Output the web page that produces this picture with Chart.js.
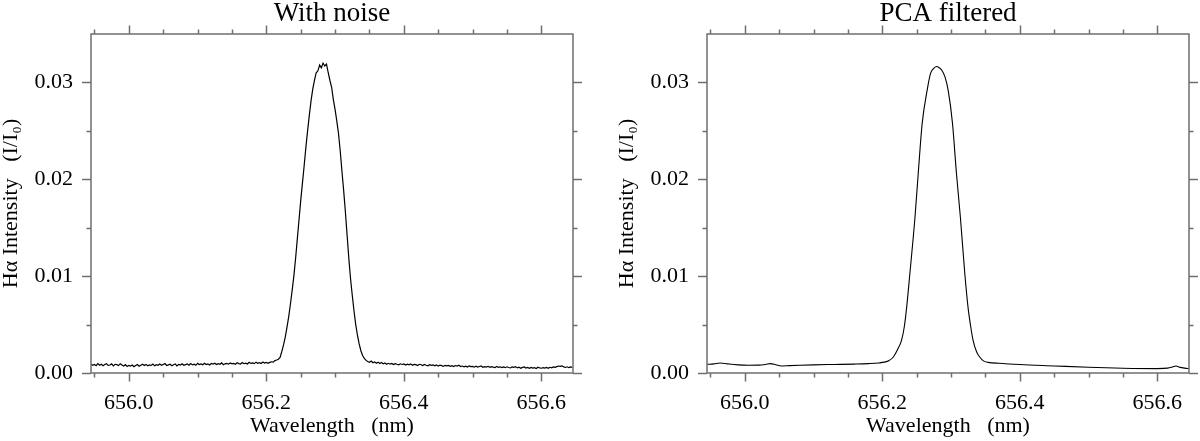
<!DOCTYPE html>
<html><head><meta charset="utf-8">
<script src="https://cdn.jsdelivr.net/npm/chart.js@4.4.1/dist/chart.umd.min.js"></script>
<style>
html,body{margin:0;padding:0;background:#fff;width:1200px;height:441px;overflow:hidden;}
#c1{position:absolute;left:0;top:0;}
#c2{position:absolute;left:616px;top:0;}
</style></head><body>
<canvas id="c1" width="584" height="441"></canvas>
<canvas id="c2" width="584" height="441"></canvas>
<script>
// ---------- data ----------
const noisyWavelength = [
655.9450,655.9475,655.9500,655.9525,655.9550,655.9575,655.9600,655.9625,
655.9650,655.9675,655.9700,655.9725,655.9750,655.9775,655.9800,655.9825,
655.9850,655.9875,655.9900,655.9925,655.9950,655.9975,656.0000,656.0025,
656.0050,656.0075,656.0100,656.0125,656.0150,656.0175,656.0200,656.0225,
656.0250,656.0275,656.0300,656.0325,656.0350,656.0375,656.0400,656.0425,
656.0450,656.0475,656.0500,656.0525,656.0550,656.0575,656.0600,656.0625,
656.0650,656.0675,656.0700,656.0725,656.0750,656.0775,656.0800,656.0825,
656.0850,656.0875,656.0900,656.0925,656.0950,656.0975,656.1000,656.1025,
656.1050,656.1075,656.1100,656.1125,656.1150,656.1175,656.1200,656.1225,
656.1250,656.1275,656.1300,656.1325,656.1350,656.1375,656.1400,656.1425,
656.1450,656.1475,656.1500,656.1525,656.1550,656.1575,656.1600,656.1625,
656.1650,656.1675,656.1700,656.1725,656.1750,656.1775,656.1800,656.1825,
656.1850,656.1875,656.1900,656.1925,656.1950,656.1975,656.2000,656.2025,
656.2050,656.2075,656.2100,656.2125,656.2150,656.2175,656.2200,656.2225,
656.2250,656.2275,656.2300,656.2325,656.2350,656.2375,656.2400,656.2425,
656.2450,656.2475,656.2500,656.2525,656.2550,656.2575,656.2600,656.2625,
656.2650,656.2675,656.2700,656.2725,656.2750,656.2775,656.2800,656.2825,
656.2850,656.2875,656.2900,656.2925,656.2950,656.2975,656.3000,656.3025,
656.3050,656.3075,656.3100,656.3125,656.3150,656.3175,656.3200,656.3225,
656.3250,656.3275,656.3300,656.3325,656.3350,656.3375,656.3400,656.3425,
656.3450,656.3475,656.3500,656.3525,656.3550,656.3575,656.3600,656.3625,
656.3650,656.3675,656.3700,656.3725,656.3750,656.3775,656.3800,656.3825,
656.3850,656.3875,656.3900,656.3925,656.3950,656.3975,656.4000,656.4025,
656.4050,656.4075,656.4100,656.4125,656.4150,656.4175,656.4200,656.4225,
656.4250,656.4275,656.4300,656.4325,656.4350,656.4375,656.4400,656.4425,
656.4450,656.4475,656.4500,656.4525,656.4550,656.4575,656.4600,656.4625,
656.4650,656.4675,656.4700,656.4725,656.4750,656.4775,656.4800,656.4825,
656.4850,656.4875,656.4900,656.4925,656.4950,656.4975,656.5000,656.5025,
656.5050,656.5075,656.5100,656.5125,656.5150,656.5175,656.5200,656.5225,
656.5250,656.5275,656.5300,656.5325,656.5350,656.5375,656.5400,656.5425,
656.5450,656.5475,656.5500,656.5525,656.5550,656.5575,656.5600,656.5625,
656.5650,656.5675,656.5700,656.5725,656.5750,656.5775,656.5800,656.5825,
656.5850,656.5875,656.5900,656.5925,656.5950,656.5975,656.6000,656.6025,
656.6050,656.6075,656.6100,656.6125,656.6150,656.6175,656.6200,656.6225,
656.6250,656.6275,656.6300,656.6325,656.6350,656.6375,656.6400,656.6425,
656.6450
];
const noisyIntensity = [
0.00093,0.00079,0.00088,0.00075,0.00097,0.00081,0.00091,0.00076,
0.00087,0.00095,0.00078,0.00083,0.00094,0.00073,0.00090,0.00086,
0.00077,0.00096,0.00082,0.00071,0.00086,0.00068,0.00079,0.00072,
0.00083,0.00066,0.00078,0.00088,0.00070,0.00081,0.00091,0.00077,
0.00089,0.00075,0.00084,0.00078,0.00093,0.00074,0.00086,0.00080,
0.00092,0.00079,0.00088,0.00097,0.00078,0.00084,0.00091,0.00075,
0.00086,0.00094,0.00073,0.00089,0.00082,0.00096,0.00080,0.00087,
0.00093,0.00081,0.00097,0.00084,0.00090,0.00079,0.00099,0.00087,
0.00094,0.00085,0.00101,0.00088,0.00093,0.00083,0.00098,0.00092,
0.00101,0.00087,0.00096,0.00090,0.00104,0.00086,0.00095,0.00099,
0.00091,0.00103,0.00094,0.00099,0.00089,0.00106,0.00097,0.00093,
0.00108,0.00096,0.00102,0.00093,0.00110,0.00099,0.00105,0.00097,
0.00112,0.00100,0.00106,0.00098,0.00114,0.00103,0.00109,0.00101,
0.00110,0.00116,0.00112,0.00128,0.00134,0.00142,0.00160,0.00222,
0.00290,0.00370,0.00470,0.00580,0.00710,0.00850,0.01000,0.01180,
0.01380,0.01580,0.01780,0.01960,0.02140,0.02330,0.02500,0.02660,
0.02810,0.02930,0.03020,0.03100,0.03120,0.03180,0.03150,0.03200,
0.03170,0.03190,0.03100,0.03020,0.02950,0.02820,0.02720,0.02600,
0.02470,0.02290,0.02080,0.01880,0.01660,0.01420,0.01180,0.00970,
0.00800,0.00640,0.00500,0.00390,0.00300,0.00230,0.00180,0.00150,
0.00130,0.00118,0.00110,0.00124,0.00106,0.00115,0.00101,0.00112,
0.00098,0.00108,0.00094,0.00103,0.00091,0.00100,0.00093,0.00099,
0.00087,0.00097,0.00090,0.00084,0.00095,0.00088,0.00093,0.00082,
0.00091,0.00084,0.00094,0.00080,0.00089,0.00086,0.00078,0.00090,
0.00085,0.00077,0.00088,0.00080,0.00074,0.00086,0.00079,0.00083,
0.00075,0.00083,0.00071,0.00080,0.00076,0.00068,0.00079,0.00073,
0.00078,0.00069,0.00075,0.00066,0.00077,0.00071,0.00080,0.00067,
0.00072,0.00064,0.00070,0.00061,0.00074,0.00066,0.00068,0.00060,
0.00070,0.00062,0.00067,0.00072,0.00059,0.00065,0.00061,0.00069,
0.00058,0.00066,0.00060,0.00055,0.00067,0.00059,0.00064,0.00056,
0.00062,0.00055,0.00064,0.00057,0.00052,0.00063,0.00058,0.00066,
0.00053,0.00060,0.00049,0.00058,0.00062,0.00051,0.00057,0.00048,
0.00058,0.00050,0.00055,0.00047,0.00060,0.00052,0.00049,0.00056,
0.00051,0.00057,0.00048,0.00059,0.00054,0.00062,0.00058,0.00066,
0.00072,0.00068,0.00074,0.00063,0.00057,0.00064,0.00055,0.00062,
0.00058
];
const pcaWavelength = [
655.945,655.955,655.964,655.975,655.990,656.005,656.020,656.030,656.037,656.045,
656.053,656.065,656.080,656.100,656.120,656.140,656.160,656.180,656.195,656.203,
656.210,656.216,656.222,656.228,656.232,656.2354,656.2401,656.2474,656.2522,656.258,
656.2652,656.270,656.274,656.2788,656.283,656.286,656.291,656.2957,656.302,656.3078,
656.3136,656.3199,656.3246,656.3285,656.3319,656.337,656.3416,656.347,656.354,656.370,
656.400,656.450,656.500,656.550,656.600,656.615,656.622,656.627,656.633,656.640,656.646
];
const pcaIntensity = [
0.00090,0.00094,0.00103,0.00094,0.00084,0.00080,0.00081,0.00088,0.00097,0.00086,
0.00072,0.00076,0.00080,0.00084,0.00087,0.00089,0.00092,0.00097,0.00104,0.00112,
0.00130,0.00165,0.00240,0.00340,0.00480,0.00680,0.01030,0.01600,0.02060,0.02580,
0.02920,0.03090,0.03140,0.03165,0.03150,0.03130,0.03060,0.02920,0.02580,0.02060,
0.01600,0.01030,0.00680,0.00480,0.00340,0.00220,0.00165,0.00125,0.00110,0.00100,
0.00087,0.00073,0.00059,0.00049,0.00045,0.00050,0.00062,0.00072,0.00058,0.00050,0.00046
];
const xMajorTicks = [656.0, 656.2, 656.4, 656.6];
const xMinorTicks = [655.95, 656.05, 656.1, 656.15, 656.25, 656.3, 656.35, 656.45, 656.5, 656.55];
const yMajorTicks = [0.00, 0.01, 0.02, 0.03];
const yMinorTicks = [0.005, 0.015, 0.025];
const panelTitles = ['With noise', 'PCA filtered'];
const xAxisTitle = 'Wavelength   (nm)';
const yAxisTitle = 'H\u03b1 Intensity   (I/I\u2080)';
const xRange = [655.945, 656.646];
const yRange = [0, 0.035];

// ---------- drawing ----------
const FONT = '"Liberation Serif", "Times New Roman", "DejaVu Serif", serif';
const AXIS_COLOR = '#6f6f6f';

const framePlugin = {
  id: 'frame',
  afterDatasetsDraw(chart) {
    const {ctx, chartArea: a, scales: {x, y}} = chart;
    ctx.save();
    ctx.strokeStyle = AXIS_COLOR;
    ctx.lineWidth = 1.5;
    ctx.strokeRect(a.left, a.top, a.right - a.left, a.bottom - a.top);
    ctx.beginPath();
    const xt = (v, len) => {
      const p = Math.round(x.getPixelForValue(v)) + 0.5;
      ctx.moveTo(p, a.bottom); ctx.lineTo(p, a.bottom + len);
      ctx.moveTo(p, a.top); ctx.lineTo(p, a.top - len);
    };
    const yt = (v, len) => {
      const p = Math.round(y.getPixelForValue(v)) + 0.5;
      ctx.moveTo(a.left, p); ctx.lineTo(a.left - len, p);
      ctx.moveTo(a.right, p); ctx.lineTo(a.right + len, p);
    };
    xMajorTicks.forEach(v => xt(v, 8.5));
    xMinorTicks.forEach(v => xt(v, 4.5));
    yMajorTicks.forEach(v => yt(v, 9));
    yMinorTicks.forEach(v => yt(v, 4.5));
    ctx.stroke();
    ctx.restore();
  }
};

function makeChart(id, title, xs, ys, smooth) {
  const pts = xs.map((v, i) => ({x: v, y: ys[i]}));
  return new Chart(document.getElementById(id), {
    type: 'line',
    data: {datasets: [{data: pts, borderColor: '#000', borderWidth: smooth ? 1.1 : 1.2, pointRadius: 0,
      tension: 0, cubicInterpolationMode: smooth ? 'monotone' : 'default', fill: false}]},
    options: {
      responsive: false, animation: false, devicePixelRatio: 1,
      layout: {padding: {left: 0, right: 11, top: 0, bottom: 0}},
      plugins: {
        legend: {display: false}, tooltip: {enabled: false},
        title: {display: true, text: title, fullSize: false, color: '#000',
          font: {family: FONT, size: 27, weight: 'normal', lineHeight: 1},
          padding: {top: 0, bottom: 7}}
      },
      scales: {
        x: {
          type: 'linear', min: xRange[0], max: xRange[1],
          afterBuildTicks: s => { s.ticks = xMajorTicks.map(v => ({value: v})); },
          afterFit: s => { s.height = 68; },
          grid: {display: false, drawTicks: false}, border: {display: false},
          ticks: {color: '#000', font: {family: FONT, size: 22}, padding: 17, maxRotation: 0, autoSkip: false,
            callback: v => Number(v).toFixed(1)},
          title: {display: true, text: xAxisTitle, color: '#000', font: {family: FONT, size: 22, lineHeight: 1},
            padding: {top: 0, bottom: 4}}
        },
        y: {
          type: 'linear', min: yRange[0], max: yRange[1],
          afterBuildTicks: s => { s.ticks = yMajorTicks.map(v => ({value: v})); },
          afterFit: s => { s.width = 91; },
          grid: {display: false, drawTicks: false}, border: {display: false},
          ticks: {color: '#000', font: {family: FONT, size: 22}, padding: 18, autoSkip: false,
            callback: v => Number(v).toFixed(2)},
          title: {display: true, text: yAxisTitle, color: '#000', font: {family: FONT, size: 22, lineHeight: 1},
            padding: {top: 0, bottom: 0}}
        }
      }
    },
    plugins: [framePlugin]
  });
}
makeChart('c1', panelTitles[0], noisyWavelength, noisyIntensity, false);
makeChart('c2', panelTitles[1], pcaWavelength, pcaIntensity, true);
</script>
</body></html>
